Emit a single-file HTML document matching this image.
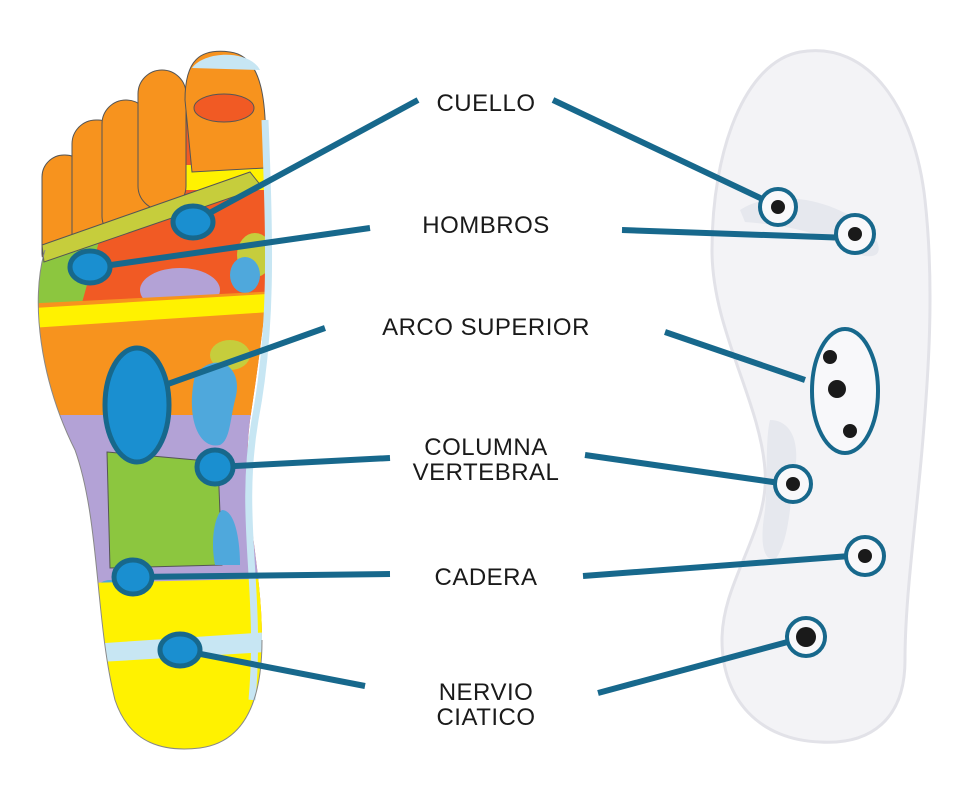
<!DOCTYPE html>
<html><head><meta charset="utf-8"><style>
html,body{margin:0;padding:0;background:#fff;}
svg{display:block}
text{font-family:"Liberation Sans",sans-serif;font-size:24px;fill:#1a1a1a;letter-spacing:0.5px}
</style></head><body>
<svg width="960" height="797" viewBox="0 0 960 797" xmlns="http://www.w3.org/2000/svg">
<defs>
<clipPath id="sole"><path d="M45,250 C30,300 40,380 75,450 C100,520 95,620 115,700 C130,745 165,752 200,748 C245,742 262,700 262,640 C262,560 240,500 250,420 C262,340 275,250 268,170 C262,120 262,60 230,52 C200,48 185,60 185,100 L185,175 L45,250 Z"/></clipPath>
<clipPath id="toes"><polygon points="0,0 300,0 300,172 40,258 0,258"/></clipPath>
</defs>
<!-- insole -->
<path d="M800,52 C870,40 915,110 925,200 C935,290 928,380 922,450 C915,530 905,600 905,660 C905,720 870,745 820,742 C760,740 722,700 722,640 C722,580 770,530 765,470 C760,400 712,330 712,250 C712,150 745,62 800,52 Z" fill="#f3f3f6" stroke="#e2e2e8" stroke-width="3"/>
<path d="M740,210 C770,190 830,195 870,230 C885,250 880,260 860,255 C820,230 780,225 745,222 Z" fill="#e6e8ee"/>
<path d="M770,420 C790,420 800,440 795,470 C790,500 790,540 775,560 C762,560 760,540 765,510 C768,480 765,440 770,420 Z" fill="#e6e8ee"/>
<ellipse cx="845" cy="390" rx="28" ry="50" fill="#e3e6ec"/>
<!-- sole regions -->
<g clip-path="url(#sole)">
<rect x="0" y="0" width="300" height="800" fill="#f15a24"/>
<rect x="0" y="165" width="300" height="25" fill="#fff200"/>
<polygon points="30,262 100,238 80,310 30,310" fill="#8cc63f"/>
<ellipse cx="180" cy="290" rx="40" ry="22" fill="#b3a2d6"/>
<ellipse cx="255" cy="255" rx="18" ry="22" fill="#c6cd3c"/>
<ellipse cx="245" cy="275" rx="15" ry="18" fill="#4fa8dc"/>
<polygon points="0,305 300,290 300,420 0,420" fill="#f7931e"/>
<polygon points="0,310 300,292 300,310 0,330" fill="#fff200"/>
<rect x="0" y="415" width="300" height="185" fill="#b3a2d6"/>
<polygon points="107,452 218,462 222,565 110,568" fill="#8cc63f" stroke="#555" stroke-width="1"/>
<ellipse cx="230" cy="355" rx="20" ry="15" fill="#c6cd3c"/>
<path d="M195,375 C215,350 245,365 235,400 C230,420 230,440 220,445 C200,450 185,420 195,375 Z" fill="#4fa8dc"/>
<path d="M222,510 C235,510 240,540 240,565 L215,565 C210,540 215,515 222,510 Z" fill="#4fa8dc"/>
<ellipse cx="110" cy="610" rx="22" ry="30" fill="#4fa8dc"/>
<polygon points="0,585 300,578 300,800 0,800" fill="#fff200"/>
<polygon points="0,650 300,630 300,650 0,668" fill="#c7e6f3"/>
</g>
<!-- toes -->
<g stroke="#555" stroke-width="1" clip-path="url(#toes)">
<rect x="42" y="155" width="45" height="120" rx="22" fill="#f7931e"/>
<rect x="72" y="120" width="50" height="140" rx="24" fill="#f7931e"/>
<rect x="102" y="100" width="48" height="140" rx="24" fill="#f7931e"/>
<rect x="138" y="70" width="48" height="140" rx="24" fill="#f7931e"/>
</g>
<path d="M185,100 C185,60 200,48 230,52 C262,56 268,100 265,168 L192,172 Z" fill="#f7931e" stroke="#555" stroke-width="1"/>
<path d="M192,68 C205,50 250,50 260,70 Z" fill="#c7e6f3"/>
<ellipse cx="224" cy="108" rx="30" ry="14" fill="#f15a24" stroke="#555" stroke-width="1"/>
<polygon points="42,245 250,172 262,187 44,262" fill="#c6cd3c" stroke="#555" stroke-width="1"/>
<path d="M265,120 C270,250 272,330 255,420 C238,520 262,590 252,700" fill="none" stroke="#c7e6f3" stroke-width="7"/>
<path d="M45,250 C30,300 40,380 75,450 C100,520 95,620 115,700 C130,745 165,752 200,748 C245,742 262,700 262,640" fill="none" stroke="#888" stroke-width="1"/>
<!-- connectors -->
<g stroke="#17688c" stroke-width="6" fill="none">
<line x1="193" y1="222" x2="418" y2="100"/>
<line x1="553" y1="100" x2="775" y2="205"/>
<line x1="90" y1="268" x2="370" y2="228"/>
<line x1="622" y1="230" x2="850" y2="238"/>
<line x1="165" y1="385" x2="325" y2="328"/>
<line x1="665" y1="332" x2="805" y2="380"/>
<line x1="215" y1="467" x2="390" y2="458"/>
<line x1="585" y1="455" x2="780" y2="483"/>
<line x1="133" y1="577" x2="390" y2="574"/>
<line x1="583" y1="576" x2="850" y2="556"/>
<line x1="180" y1="650" x2="365" y2="686"/>
<line x1="598" y1="693" x2="795" y2="640"/>
</g>
<g fill="#1a8fd0" stroke="#17688c" stroke-width="5">
<ellipse cx="193" cy="222" rx="20" ry="16"/>
<ellipse cx="90" cy="267" rx="20" ry="16"/>
<ellipse cx="137" cy="405" rx="32" ry="57"/>
<ellipse cx="215" cy="467" rx="18" ry="17"/>
<ellipse cx="133" cy="577" rx="19" ry="17"/>
<ellipse cx="180" cy="650" rx="20" ry="16"/>
</g>
<!-- insole magnets -->
<g fill="#f8f8fa" stroke="#17688c" stroke-width="4">
<circle cx="778" cy="207" r="18"/>
<circle cx="855" cy="234" r="19"/>
<ellipse cx="845" cy="391" rx="33" ry="62"/>
<circle cx="793" cy="484" r="18"/>
<circle cx="865" cy="556" r="19"/>
<circle cx="806" cy="637" r="19"/>
</g>
<g fill="#1a1a1a">
<circle cx="778" cy="207" r="7"/>
<circle cx="855" cy="234" r="7"/>
<circle cx="830" cy="357" r="7"/>
<circle cx="837" cy="389" r="9"/>
<circle cx="850" cy="431" r="7"/>
<circle cx="793" cy="484" r="7"/>
<circle cx="865" cy="556" r="7"/>
<circle cx="806" cy="637" r="10"/>
</g>
<!-- labels -->
<g text-anchor="middle">
<text x="486" y="111">CUELLO</text>
<text x="486" y="233">HOMBROS</text>
<text x="486" y="335">ARCO SUPERIOR</text>
<text x="486" y="455">COLUMNA</text>
<text x="486" y="480">VERTEBRAL</text>
<text x="486" y="585">CADERA</text>
<text x="486" y="700">NERVIO</text>
<text x="486" y="725">CIATICO</text>
</g>
</svg>
</body></html>
